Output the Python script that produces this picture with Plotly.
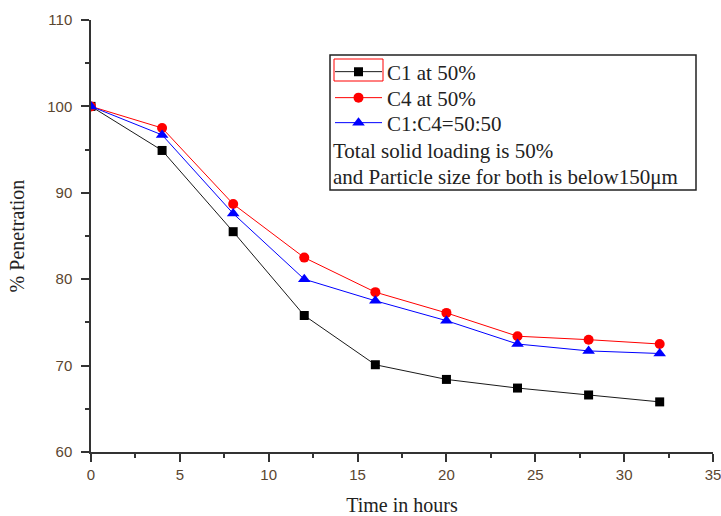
import plotly.graph_objects as go

time_hours = [0, 4, 8, 12, 16, 20, 24, 28, 32]
c1_50 = [100.0, 94.9, 85.5, 75.8, 70.1, 68.4, 67.4, 66.6, 65.8]
c4_50 = [100.0, 97.5, 88.7, 82.5, 78.5, 76.1, 73.4, 73.0, 72.5]
c1c4_5050 = [100.0, 96.7, 87.6, 80.0, 77.5, 75.2, 72.5, 71.7, 71.4]

names = ["C1 at 50%", "C4 at 50%", "C1:C4=50:50"]
note_lines = ["Total solid loading is 50%", "and Particle size for both is below150\u03bcm"]

W, H = 721, 516
L, R, T, B = 91, 8, 20, 64
PW, PH = W - L - R, H - T - B


def px(x):
    return (x - L) / PW


def py(y):
    return (H - B - y) / PH


serif = "Liberation Serif, Times New Roman, serif"
sans = "Liberation Sans, Arial, sans-serif"
txt = "#222222"

fig = go.Figure()
fig.add_trace(go.Scatter(x=time_hours, y=c1_50, name=names[0], mode="lines+markers",
                         legend="legend",
                         line=dict(color="#1a1a1a", width=1),
                         marker=dict(symbol="square", size=9, color="black")))
fig.add_trace(go.Scatter(x=time_hours, y=c4_50, name=names[1], mode="lines+markers",
                         legend="legend2",
                         line=dict(color="red", width=1),
                         marker=dict(symbol="circle", size=10, color="red")))
fig.add_trace(go.Scatter(x=time_hours, y=c1c4_5050, name=names[2], mode="lines+markers",
                         legend="legend3",
                         line=dict(color="blue", width=1),
                         marker=dict(symbol="triangle-up", size=11, color="blue")))

axis_common = dict(
    showline=True, linecolor="#333333", linewidth=1.5, mirror=False,
    ticks="outside", ticklen=8, tickwidth=1.5, tickcolor="#333333",
    showgrid=False, zeroline=False, automargin=False,
    ticklabeloverflow="allow",
    tickfont=dict(family=sans, size=15, color="#5a4630"),
)

fig.update_xaxes(range=[0, 35], dtick=5, tick0=0,
                 minor=dict(dtick=2.5, ticks="outside", ticklen=4, tickwidth=1.5, tickcolor="#333333"),
                 title=dict(text="Time in hours", font=dict(family=serif, size=20, color=txt), standoff=16),
                 ticklabelstandoff=0,
                 **axis_common)
fig.update_yaxes(range=[60, 110], dtick=10, tick0=60,
                 minor=dict(dtick=5, ticks="outside", ticklen=4, tickwidth=1.5, tickcolor="#333333"),
                 title=dict(text="% Penetration", font=dict(family=serif, size=20, color=txt), standoff=17),
                 ticklabelstandoff=6,
                 **axis_common)

shapes = [
    dict(type="rect", xref="paper", yref="paper", x0=px(330), x1=px(696), y0=py(190), y1=py(55),
         line=dict(color="#222", width=1.5), fillcolor="rgba(0,0,0,0)", layer="above"),
    dict(type="rect", xref="paper", yref="paper", x0=px(334), x1=px(383), y0=py(81), y1=py(59),
         line=dict(color="red", width=1), fillcolor="rgba(0,0,0,0)", layer="above"),
]

annotations = [
    dict(text=note_lines[0], xref="paper", yref="paper", x=px(331), y=py(151), xanchor="left",
         yanchor="middle", showarrow=False, font=dict(family=serif, size=21, color=txt)),
    dict(text=note_lines[1], xref="paper", yref="paper", x=px(331), y=py(177), xanchor="left",
         yanchor="middle", showarrow=False, font=dict(family=serif, size=21, color=txt)),
]

leg_common = dict(xanchor="left", yanchor="middle", bgcolor="rgba(0,0,0,0)", borderwidth=0,
                  itemwidth=47, font=dict(family=serif, size=21, color=txt))

fig.update_layout(
    width=W, height=H,
    margin=dict(l=L, r=R, t=T, b=B),
    plot_bgcolor="white", paper_bgcolor="white",
    showlegend=True,
    legend=dict(x=px(330), y=py(72), **leg_common),
    legend2=dict(x=px(330), y=py(98), **leg_common),
    legend3=dict(x=px(330), y=py(123), **leg_common),
    shapes=shapes,
    annotations=annotations,
)

fig.write_html("out.html", config={"displayModeBar": False},
               post_script="document.body.style.margin='0';document.body.style.padding='0';")
